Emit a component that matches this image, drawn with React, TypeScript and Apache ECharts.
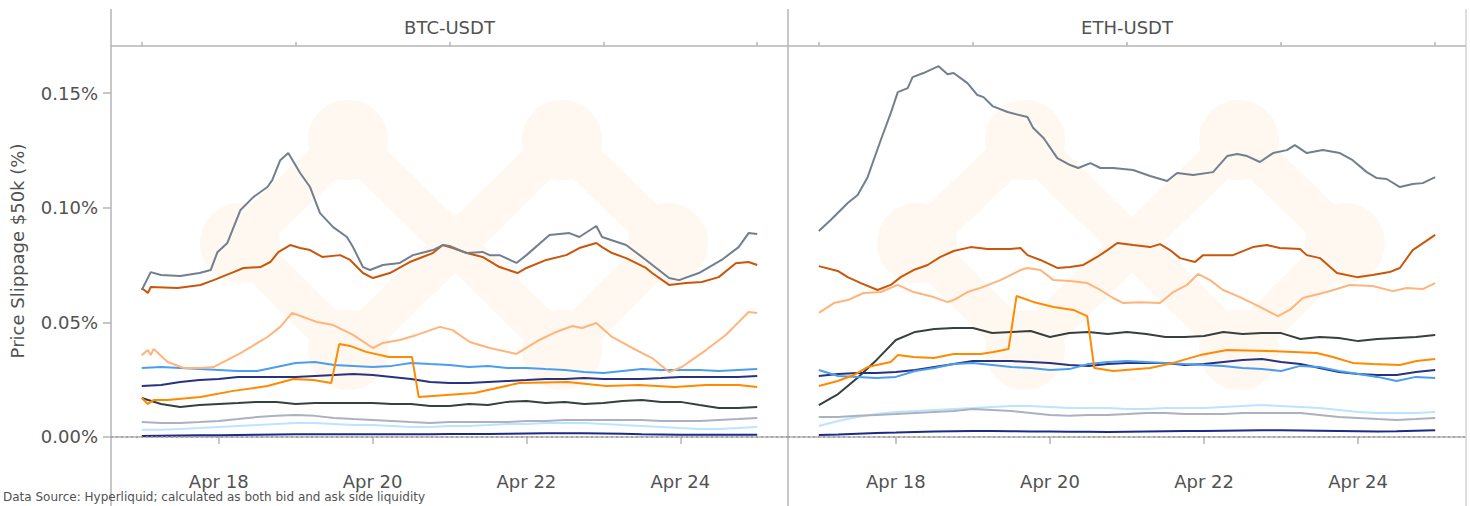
import React, { useEffect, useRef } from "react";
import * as echarts from "echarts";

// ---------- DATA ----------
const HOUR = 3600 * 1000;
const START = Date.UTC(2024, 3, 17); // Apr 17 00:00
const SAMPLE_HOURS = Array.from({ length: 33 }, (_, i) => i * 6); // 6-hourly samples, Apr 17 -> Apr 25

const panelTitles = ["BTC-USDT", "ETH-USDT"];
const yTicks = [0, 0.05, 0.1, 0.15];
const majorTickDays = [1, 3, 5, 7]; // Apr 18, 20, 22, 24
const minorTickDays = [0, 2, 4, 6, 8]; // Apr 17, 19, 21, 23, 25
const yAxisTitle = "Price Slippage $50k (%)";
const caption = "Data Source: Hyperliquid; calculated as both bid and ask side liquidity";

// BTC-USDT (values in %) — series with own hour stamps
const btcSlateHours = [0, 2.8, 6, 12, 18, 21.5, 23.6, 26.7, 30.8, 34.8, 39.2, 40.7, 43.2, 45.7, 49.4, 52.5, 55.6, 59.7, 64, 65.9, 69, 71.2, 75.2, 80.5, 84.6, 90.8, 93.9, 96, 101.4, 106.3, 108.5, 111.6, 116.9, 120, 127.2, 133.4, 136.5, 141.8, 143.6, 151.1, 157.3, 164.5, 167.6, 173.8, 180.9, 186.2, 189.3, 192];
const btcSlate = [0.0641, 0.0719, 0.0706, 0.0702, 0.0715, 0.0728, 0.0806, 0.0846, 0.099, 0.1046, 0.109, 0.112, 0.1207, 0.1238, 0.1151, 0.109, 0.0976, 0.0915, 0.0872, 0.0828, 0.0741, 0.0728, 0.075, 0.0759, 0.0793, 0.0815, 0.0837, 0.0833, 0.0802, 0.0807, 0.0793, 0.0793, 0.0759, 0.0793, 0.0881, 0.0889, 0.0872, 0.092, 0.0872, 0.0837, 0.0772, 0.0693, 0.0684, 0.0715, 0.0772, 0.0828, 0.0889, 0.0885];
const btcRustHours = [0, 1.9, 2.8, 11.2, 18.3, 22.4, 28.6, 31.7, 37, 40.1, 42.6, 46.3, 49.4, 52.5, 56.3, 61.9, 65, 69, 72.1, 77.4, 83.6, 90.8, 93.9, 97, 101.4, 106.3, 111.6, 117.2, 120, 126.2, 132.4, 136.5, 141.8, 143.6, 146.7, 151.1, 157.3, 159.2, 164.5, 169.8, 174.7, 180, 185.3, 189.3, 192];
const btcRust = [0.065, 0.0628, 0.0654, 0.065, 0.0663, 0.0684, 0.0719, 0.0737, 0.0741, 0.0763, 0.0806, 0.0837, 0.0824, 0.0815, 0.0785, 0.0793, 0.0772, 0.0715, 0.0693, 0.0715, 0.0763, 0.0802, 0.0837, 0.0824, 0.0802, 0.0785, 0.0741, 0.0715, 0.0737, 0.0772, 0.0793, 0.0824, 0.0846, 0.0828, 0.0802, 0.078, 0.0737, 0.0715, 0.0663, 0.0671, 0.0676, 0.0697, 0.0758, 0.0763, 0.075];
const btcPeachHours = [0, 1.9, 2.8, 3.7, 8.1, 13.1, 18.3, 22.4, 30.8, 39.2, 43.2, 46.9, 50.4, 54.7, 59.7, 65.9, 72.1, 75.2, 80.5, 85.8, 93, 97, 102.3, 108.5, 116.9, 124, 129.3, 134.3, 137.4, 141.8, 146.7, 153, 159.2, 164.5, 168.5, 176, 182.2, 186.2, 189.3, 192];
const btcPeach = [0.0357, 0.0379, 0.0357, 0.0384, 0.0327, 0.0301, 0.0301, 0.0305, 0.0366, 0.0436, 0.048, 0.0541, 0.0523, 0.0501, 0.0488, 0.0445, 0.0388, 0.041, 0.0423, 0.0445, 0.048, 0.0466, 0.0414, 0.0388, 0.0362, 0.0423, 0.0458, 0.0484, 0.0475, 0.0497, 0.0436, 0.0388, 0.0344, 0.0283, 0.0305, 0.0379, 0.0445, 0.0501, 0.0545, 0.0541];
const btcStepHours = [0, 1.9, 3.7, 8, 18.3, 28.6, 39.2, 47.3, 53.5, 59.1, 61.6, 65, 70, 77.1, 84.3, 86.4, 103.8, 117.8, 132.8, 144.9, 155.1, 166.3, 176, 186.2, 192];
const btcStepValues = [0.017, 0.0144, 0.0161, 0.0161, 0.0174, 0.0201, 0.0222, 0.0253, 0.0248, 0.0235, 0.0405, 0.0397, 0.0371, 0.0349, 0.0349, 0.0174, 0.0192, 0.0235, 0.024, 0.0222, 0.0227, 0.0218, 0.0227, 0.0227, 0.0218];
// BTC-USDT — series on the 6-hour grid
const btcBlue = [0.0301, 0.0305, 0.0301, 0.0296, 0.0292, 0.0288, 0.0288, 0.0305, 0.0323, 0.0327, 0.0314, 0.031, 0.0305, 0.031, 0.0323, 0.0318, 0.0314, 0.0305, 0.031, 0.0301, 0.0301, 0.0296, 0.0292, 0.0283, 0.0279, 0.0288, 0.0296, 0.0292, 0.0292, 0.0292, 0.0288, 0.0292, 0.0296];
const btcNavy = [0.0222, 0.0227, 0.024, 0.0248, 0.0253, 0.0262, 0.0262, 0.0262, 0.0262, 0.0266, 0.027, 0.0275, 0.027, 0.0262, 0.0253, 0.024, 0.0235, 0.0235, 0.024, 0.0244, 0.0248, 0.0253, 0.0253, 0.0257, 0.0253, 0.0253, 0.0253, 0.0257, 0.0262, 0.0262, 0.0262, 0.0262, 0.0266];
const btcCharcoal = [0.017, 0.0144, 0.0131, 0.0139, 0.0144, 0.0148, 0.0153, 0.0153, 0.0144, 0.0148, 0.0148, 0.0148, 0.0148, 0.0144, 0.0144, 0.0135, 0.0135, 0.0144, 0.0139, 0.0153, 0.0157, 0.0148, 0.0153, 0.0144, 0.0148, 0.0157, 0.0161, 0.0153, 0.0153, 0.0139, 0.0126, 0.0126, 0.0131];
const btcSilver = [0.0065, 0.0061, 0.0061, 0.0065, 0.007, 0.0078, 0.0087, 0.0092, 0.0096, 0.0092, 0.0083, 0.0078, 0.0074, 0.007, 0.0065, 0.0061, 0.0065, 0.0065, 0.0065, 0.0065, 0.007, 0.007, 0.0074, 0.0074, 0.0074, 0.0074, 0.0074, 0.007, 0.007, 0.007, 0.0074, 0.0078, 0.0083];
const btcSky = [0.0031, 0.0031, 0.0035, 0.0039, 0.0044, 0.0048, 0.0052, 0.0057, 0.0061, 0.0061, 0.0057, 0.0052, 0.0052, 0.0048, 0.0044, 0.0044, 0.0048, 0.0048, 0.0052, 0.0057, 0.0057, 0.0061, 0.0061, 0.0061, 0.0057, 0.0052, 0.0048, 0.0044, 0.0039, 0.0035, 0.0035, 0.0039, 0.0044];
const btcInk = [0.0004, 0.0005, 0.0006, 0.0007, 0.0008, 0.0009, 0.001, 0.0011, 0.0012, 0.0012, 0.0012, 0.0012, 0.0012, 0.0012, 0.0012, 0.0012, 0.0013, 0.0013, 0.0013, 0.0014, 0.0015, 0.0016, 0.0016, 0.0016, 0.0015, 0.0014, 0.0012, 0.0011, 0.001, 0.001, 0.001, 0.001, 0.001];

// ETH-USDT (values in %) — series with own hour stamps
const ethSlateHours = [0, 3.7, 9, 12.1, 15.2, 19.3, 22.4, 24.6, 27.7, 29.2, 32.6, 37.3, 40.1, 42, 46.3, 49.4, 51.3, 54.1, 58.8, 65, 66.8, 70, 74.3, 78.3, 80.8, 84.6, 87.7, 91.7, 97.9, 103.2, 108.5, 111.6, 116.6, 122.8, 127.2, 130.3, 133.4, 137.4, 141.5, 145.8, 148.3, 152, 157, 162.3, 166.3, 170.7, 173.8, 176.9, 181, 185, 188.1, 192];
const ethSlate = [0.0898, 0.0946, 0.102, 0.1055, 0.1133, 0.1295, 0.1412, 0.1504, 0.1521, 0.1569, 0.1587, 0.1617, 0.1582, 0.1587, 0.1543, 0.1491, 0.1482, 0.1443, 0.1417, 0.1395, 0.1347, 0.1304, 0.1216, 0.1186, 0.1173, 0.1194, 0.1173, 0.1173, 0.1164, 0.1138, 0.1116, 0.1151, 0.1142, 0.1155, 0.1225, 0.1234, 0.1225, 0.1199, 0.1238, 0.1251, 0.1273, 0.1238, 0.1251, 0.1238, 0.1207, 0.1155, 0.1129, 0.1125, 0.109, 0.1103, 0.1107, 0.1133];
const ethRustHours = [0, 5.9, 9, 13.1, 18.3, 22.4, 25.5, 29.5, 33.9, 37.9, 42, 47.3, 52.5, 59.7, 62.8, 65, 69, 74.3, 78.3, 82.4, 86.7, 89.9, 93, 97.9, 103.2, 106.3, 109.4, 112.5, 117.2, 119.7, 129, 135.2, 139.6, 143.6, 149.9, 152, 156.1, 161.4, 167.6, 172.5, 177.8, 181, 185, 192];
const ethRust = [0.0745, 0.0724, 0.0697, 0.0671, 0.0641, 0.0663, 0.0697, 0.0728, 0.075, 0.0785, 0.0811, 0.0828, 0.082, 0.082, 0.0824, 0.0793, 0.0772, 0.0737, 0.0741, 0.075, 0.0785, 0.0815, 0.0846, 0.0837, 0.0828, 0.0841, 0.0815, 0.078, 0.0763, 0.0793, 0.0793, 0.0828, 0.0837, 0.0824, 0.082, 0.0793, 0.078, 0.0715, 0.0697, 0.0706, 0.0719, 0.0737, 0.0815, 0.0881];
const ethPeachHours = [0, 4.7, 9, 14, 19.3, 24.6, 29.5, 35.8, 40.1, 42, 46.3, 50.4, 56.6, 62.8, 65, 69, 73.1, 78.3, 83.6, 87.7, 91.7, 94.8, 100.1, 106.3, 110.4, 114.7, 118.1, 121.9, 125.9, 131.2, 137.4, 143, 146.7, 150.8, 158.2, 165.4, 172.5, 178.8, 183.1, 188.1, 192];
const ethPeach = [0.0541, 0.0584, 0.0597, 0.0628, 0.0632, 0.0663, 0.0632, 0.061, 0.0588, 0.0597, 0.0632, 0.065, 0.0684, 0.0728, 0.0737, 0.0728, 0.0684, 0.068, 0.0671, 0.0641, 0.0606, 0.0584, 0.0588, 0.0584, 0.0632, 0.0663, 0.0711, 0.0684, 0.0641, 0.061, 0.0567, 0.0527, 0.0554, 0.0606, 0.0632, 0.0663, 0.0658, 0.0636, 0.065, 0.0645, 0.0671];
const ethStepHours = [0, 5.9, 10.9, 15.2, 22.4, 24.6, 29.5, 35.8, 42, 50.4, 54.4, 59.1, 61.6, 66.8, 73.1, 79.3, 83.6, 85.8, 91.7, 103.2, 110.4, 118.8, 127.2, 139.6, 155.1, 160.1, 166.3, 172.5, 181, 186.2, 192];
const ethStepValues = [0.0222, 0.0244, 0.027, 0.0305, 0.0327, 0.0357, 0.0349, 0.0344, 0.0362, 0.0362, 0.0371, 0.0384, 0.0615, 0.0589, 0.0567, 0.0554, 0.0527, 0.0301, 0.0288, 0.0301, 0.0323, 0.0357, 0.0379, 0.0375, 0.0366, 0.0349, 0.0323, 0.0318, 0.0314, 0.0331, 0.034];
// ETH-USDT — series on the 6-hour grid
const ethBlue = [0.0292, 0.0266, 0.0262, 0.0257, 0.0262, 0.0288, 0.0301, 0.0318, 0.0323, 0.0314, 0.0305, 0.0301, 0.0292, 0.0296, 0.0318, 0.0327, 0.0331, 0.0327, 0.0323, 0.0318, 0.0314, 0.031, 0.0301, 0.0296, 0.0288, 0.031, 0.0305, 0.0288, 0.0275, 0.0262, 0.0244, 0.0262, 0.0257];
const ethNavy = [0.0266, 0.0275, 0.0279, 0.0279, 0.0283, 0.0292, 0.0305, 0.0318, 0.0331, 0.0331, 0.0331, 0.0327, 0.0323, 0.0314, 0.031, 0.0318, 0.0323, 0.0323, 0.0323, 0.0314, 0.0318, 0.0327, 0.0336, 0.034, 0.0327, 0.0318, 0.0301, 0.0283, 0.0275, 0.027, 0.027, 0.0283, 0.0292];
const ethCharcoal = [0.0139, 0.0187, 0.0257, 0.0336, 0.0423, 0.0458, 0.0471, 0.0475, 0.0475, 0.0453, 0.0458, 0.0462, 0.0436, 0.0453, 0.0458, 0.0449, 0.0458, 0.0449, 0.0436, 0.0436, 0.044, 0.0458, 0.0449, 0.0453, 0.0453, 0.0427, 0.0436, 0.0432, 0.0418, 0.0427, 0.0432, 0.0436, 0.0445];
const ethSilver = [0.0087, 0.0087, 0.0092, 0.0096, 0.01, 0.0105, 0.0109, 0.0113, 0.0122, 0.0118, 0.0113, 0.0105, 0.0096, 0.0092, 0.0096, 0.0096, 0.01, 0.0105, 0.0105, 0.01, 0.01, 0.01, 0.0105, 0.0105, 0.0105, 0.0105, 0.0096, 0.0087, 0.0083, 0.0078, 0.0074, 0.0078, 0.0083];
const ethSky = [0.0048, 0.007, 0.0087, 0.01, 0.0109, 0.0113, 0.0118, 0.0122, 0.0126, 0.0131, 0.0135, 0.0135, 0.0131, 0.0126, 0.0126, 0.0126, 0.0122, 0.0122, 0.0126, 0.0126, 0.0126, 0.0131, 0.0135, 0.0139, 0.0135, 0.0131, 0.0126, 0.0118, 0.0109, 0.0105, 0.0105, 0.0105, 0.0109];
const ethInk = [0.0009, 0.0011, 0.0014, 0.0017, 0.0019, 0.0022, 0.0024, 0.0025, 0.0026, 0.0026, 0.0025, 0.0024, 0.0024, 0.0023, 0.0023, 0.0022, 0.0023, 0.0024, 0.0025, 0.0026, 0.0026, 0.0027, 0.0028, 0.0029, 0.0029, 0.0028, 0.0027, 0.0026, 0.0025, 0.0024, 0.0025, 0.0027, 0.0029];

// ---------- STYLE ----------
const COLORS = {
  slate: "#727f8e",
  rust: "#c9560b",
  peach: "#ffb47c",
  step: "#ff8a00",
  blue: "#4a9ef0",
  navy: "#27337f",
  charcoal: "#36403f",
  silver: "#abb1bd",
  sky: "#bce3ff",
  ink: "#1c2b86",
};
const FONT = "'DejaVu Sans', 'Noto Sans', sans-serif";
const TEXT = "#525252";
const FRAME = "#b4b4b4";
const WM = "#fef8f0";
const FS = 18;

const GRID_TOP = 46;
const GRID_BOTTOM_Y = 456;
const PANEL_X = [[111, 788], [788, 1466]];

function pairs(hours: number[], values: number[]) {
  return values.map((v, i) => [START + hours[i] * HOUR, v]);
}

export default function App() {
  const ref = useRef<HTMLDivElement>(null);

  useEffect(() => {
    if (!ref.current) return;
    const chart = echarts.init(ref.current, undefined, { renderer: "svg" });

    const panels = [
      {
        grid: [btcSky, btcSilver, btcInk, btcCharcoal, btcNavy, btcBlue],
        step: pairs(btcStepHours, btcStepValues),
        peach: pairs(btcPeachHours, btcPeach),
        rust: pairs(btcRustHours, btcRust),
        slate: pairs(btcSlateHours, btcSlate),
      },
      {
        grid: [ethSky, ethSilver, ethInk, ethCharcoal, ethNavy, ethBlue],
        step: pairs(ethStepHours, ethStepValues),
        peach: pairs(ethPeachHours, ethPeach),
        rust: pairs(ethRustHours, ethRust),
        slate: pairs(ethSlateHours, ethSlate),
      },
    ];
    const gridKeys = ["sky", "silver", "ink", "charcoal", "navy", "blue"];

    const series: any[] = [];
    panels.forEach((p, g) => {
      const mk = (name: string, data: any[], color: string, extra: any = {}) => ({
        type: "line",
        name: `${panelTitles[g]} ${name}`,
        xAxisIndex: g * 2,
        yAxisIndex: g,
        data,
        showSymbol: false,
        symbol: "none",
        lineStyle: { color, width: 2 },
        itemStyle: { color },
        z: 3,
        ...extra,
      });
      p.grid.forEach((arr, k) => {
        const key = gridKeys[k] as keyof typeof COLORS;
        const extra =
          key === "ink"
            ? {
                markLine: {
                  silent: true,
                  symbol: "none",
                  label: { show: false },
                  lineStyle: { color: "#9a9a9a", type: [2, 3], width: 1.5 },
                  data: [{ yAxis: 0 }],
                },
              }
            : {};
        series.push(mk(key, pairs(SAMPLE_HOURS, arr), COLORS[key], extra));
      });
      series.push(mk("step", p.step, COLORS.step));
      series.push(mk("peach", p.peach, COLORS.peach));
      series.push(mk("rust", p.rust, COLORS.rust));
      series.push(mk("slate", p.slate, COLORS.slate));
    });

    const xMin = START - 9.6 * HOUR;
    const xMax = START + 201.6 * HOUR;
    const majorVals = majorTickDays.map((d) => START + d * 24 * HOUR);
    const minorVals = minorTickDays.map((d) => START + d * 24 * HOUR);
    const fmtDate = (v: number) => "Apr " + new Date(v).getUTCDate();

    const xAxes: any[] = [];
    [0, 1].forEach((g) => {
      xAxes.push({
        type: "value",
        gridIndex: g,
        min: xMin,
        max: xMax,
        axisLine: { show: true, lineStyle: { color: FRAME, width: 1.5 } },
        axisTick: { show: true, customValues: majorVals, length: 7, lineStyle: { color: FRAME, width: 1.5 } },
        axisLabel: {
          show: true,
          customValues: majorVals,
          formatter: fmtDate,
          margin: 16,
          fontSize: FS,
          color: TEXT,
          fontFamily: FONT,
        },
        splitLine: { show: false },
      });
      xAxes.push({
        type: "value",
        gridIndex: g,
        min: xMin,
        max: xMax,
        axisLine: { show: false },
        axisTick: { show: true, customValues: minorVals, length: 4, lineStyle: { color: FRAME, width: 1.5 } },
        axisLabel: { show: false },
        splitLine: { show: false },
      });
    });

    const yAxes: any[] = [0, 1].map((g) => ({
      type: "value",
      gridIndex: g,
      min: -0.0083,
      max: 0.1705,
      axisLine: { show: false },
      splitLine: { show: false },
      axisTick: { show: g === 0, customValues: yTicks, length: 8, lineStyle: { color: FRAME, width: 1.5 } },
      axisLabel: {
        show: g === 0,
        customValues: yTicks,
        formatter: (v: number) => v.toFixed(2) + "%",
        margin: 13,
        fontSize: FS,
        color: TEXT,
        fontFamily: FONT,
      },
      name: g === 0 ? yAxisTitle : "",
      nameLocation: "middle",
      nameGap: 85,
      nameRotate: 90,
      nameTextStyle: { fontSize: FS, color: TEXT, fontFamily: FONT },
    }));

    // watermark logo (decorative), relative node positions
    const nodes: Record<string, [number, number]> = {
      tl: [348, 140], l: [240, 243], bl: [348, 350], c: [455, 245],
      tr: [562, 140], r: [668, 243], br: [562, 350],
    };
    const bands: [string, string][] = [
      ["tl", "l"], ["l", "bl"], ["bl", "tr"], ["tl", "c"], ["c", "br"], ["tr", "r"], ["r", "br"],
    ];
    const graphics: any[] = [];
    [0, 677].forEach((dx) => {
      bands.forEach(([a, b]) => {
        graphics.push({
          type: "line",
          silent: true,
          z: 0,
          shape: { x1: nodes[a][0] + dx, y1: nodes[a][1], x2: nodes[b][0] + dx, y2: nodes[b][1] },
          style: { stroke: WM, lineWidth: 40, lineCap: "round" },
        });
      });
      ["tl", "l", "bl", "tr", "r", "br"].forEach((k) => {
        graphics.push({
          type: "circle",
          silent: true,
          z: 0,
          shape: { cx: nodes[k][0] + dx, cy: nodes[k][1], r: 40 },
          style: { fill: WM },
        });
      });
    });
    // frame lines
    [111, 788, 1466].forEach((x) => {
      graphics.push({
        type: "line",
        silent: true,
        z: 5,
        shape: { x1: x, y1: 9, x2: x, y2: 506 },
        style: { stroke: x === 1466 ? "#d4d4d4" : FRAME, lineWidth: 1.5 },
      });
    });
    graphics.push({
      type: "line",
      silent: true,
      z: 5,
      shape: { x1: 111, y1: GRID_TOP, x2: 1466, y2: GRID_TOP },
      style: { stroke: FRAME, lineWidth: 1.5 },
    });
    // strip titles
    PANEL_X.forEach(([a, b], g) => {
      graphics.push({
        type: "text",
        silent: true,
        z: 5,
        x: (a + b) / 2,
        y: 27,
        style: {
          text: panelTitles[g],
          fill: TEXT,
          font: `${FS}px ${FONT}`,
          textAlign: "center",
          textVerticalAlign: "middle",
        },
      });
    });
    graphics.push({
      type: "text",
      silent: true,
      z: 5,
      x: 3,
      y: 491,
      style: { text: caption, fill: TEXT, font: `12px ${FONT}`, textAlign: "left", textVerticalAlign: "top" },
    });

    chart.setOption({
      animation: false,
      backgroundColor: "#ffffff",
      grid: PANEL_X.map(([a, b]) => ({
        left: a,
        width: b - a,
        top: GRID_TOP,
        height: GRID_BOTTOM_Y - GRID_TOP,
        containLabel: false,
      })),
      xAxis: xAxes,
      yAxis: yAxes,
      graphic: graphics,
      series,
    });

    return () => chart.dispose();
  }, []);

  return (
    <div
      ref={ref}
      style={{ position: "fixed", left: 0, top: 0, width: 1470, height: 506, background: "#fff" }}
    />
  );
}
